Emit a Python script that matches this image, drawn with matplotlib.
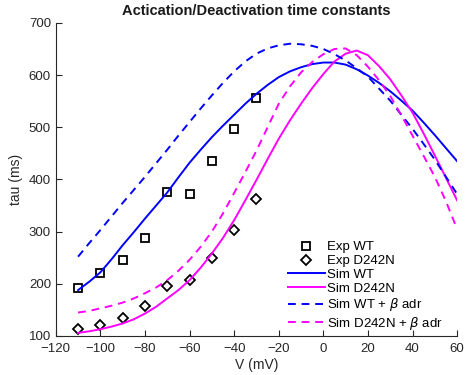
import matplotlib
matplotlib.use("Agg")
from matplotlib import pyplot as plt

plt.rcParams['font.family'] = ['Liberation Sans', 'DejaVu Sans']
plt.rcParams['mathtext.fontset'] = 'dejavusans'

# experimental points
expV = [-110, -100, -90, -80, -70, -60, -50, -40, -30]
expWT = [192, 220, 246, 288, 376, 373, 435, 496, 557]
expD242N = [113, 121, 134, 158, 195, 207, 250, 304, 363]

# simulated curves, every 5 mV
simV = list(range(-110, 61, 5))
simWT = [188, 204, 222, 247, 274, 299, 325, 350, 375, 404, 432, 457, 481, 503, 524, 545, 564,
         581, 596, 607, 615, 621, 624, 624, 620, 611, 599, 585, 569, 551, 532, 509, 485, 460, 435]
simD242N = [106, 109, 113, 118, 124, 132, 143, 156, 172, 188, 207, 231, 258, 288, 322, 360, 399,
            439, 478, 513, 545, 575, 602, 626, 641, 647, 638, 617, 592, 561, 528, 488, 446, 403, 360]
simWTb = [252, 278, 303, 329, 355, 380, 405, 431, 457, 484, 510, 536, 561, 585, 607, 626, 641,
          651, 657, 660, 659, 656, 650, 640, 628, 613, 597, 574, 551, 524, 497, 468, 438, 405, 372]
simD242Nb = [145, 148, 153, 158, 164, 172, 182, 193, 207, 225, 246, 271, 300, 335, 374, 414, 455,
             500, 545, 578, 605, 625, 640, 650, 651, 638, 616, 590, 560, 523, 484, 445, 405, 358, 305]

fig = plt.figure(figsize=(4.65, 3.75), dpi=100)
ax = fig.add_axes([0.120, 0.104, 0.863, 0.835])

ax.plot(expV, expWT, 's', mfc='none', mec='black', ms=5.5, mew=1.3, label='Exp WT')
ax.plot(expV, expD242N, 'D', mfc='none', mec='black', ms=5.5, mew=1.3, label='Exp D242N')
ax.plot(simV, simWT, '-', color='#0000ff', lw=1.4, label='Sim WT')
ax.plot(simV, simD242N, '-', color='#ff00ff', lw=1.4, label='Sim D242N')
ax.plot(simV, simWTb, '--', color='#0000ff', lw=1.4, dashes=(4, 3), label=r'Sim WT + $\beta$ adr')
ax.plot(simV, simD242Nb, '--', color='#ff00ff', lw=1.4, dashes=(4, 3), label=r'Sim D242N + $\beta$ adr')

ax.set_xlim(-120, 60)
ax.set_ylim(100, 700)
ax.set_xticks(range(-120, 61, 20))
ax.set_yticks(range(100, 701, 100))
ax.spines['top'].set_visible(False)
ax.spines['right'].set_visible(False)
for s in ['left', 'bottom']:
    ax.spines[s].set_color('#262626')
    ax.spines[s].set_linewidth(0.8)
ax.tick_params(direction='in', length=4, width=0.8, colors='#262626', labelsize=9.5)
ax.tick_params(axis='x', pad=5)

ax.set_xlabel('V (mV)', fontsize=10, color='#262626', labelpad=2)
ax.set_ylabel('tau (ms)', fontsize=10, color='#262626')
ax.set_title('Actication/Deactivation time constants', fontsize=10.5, fontweight='bold', color='#1a1a1a')

ax.legend(loc='lower right', bbox_to_anchor=(0.995, -0.025), frameon=False, fontsize=9.5,
          handlelength=2.8, handletextpad=0.2, labelspacing=0.12)

fig.savefig('out.png', dpi=100)
